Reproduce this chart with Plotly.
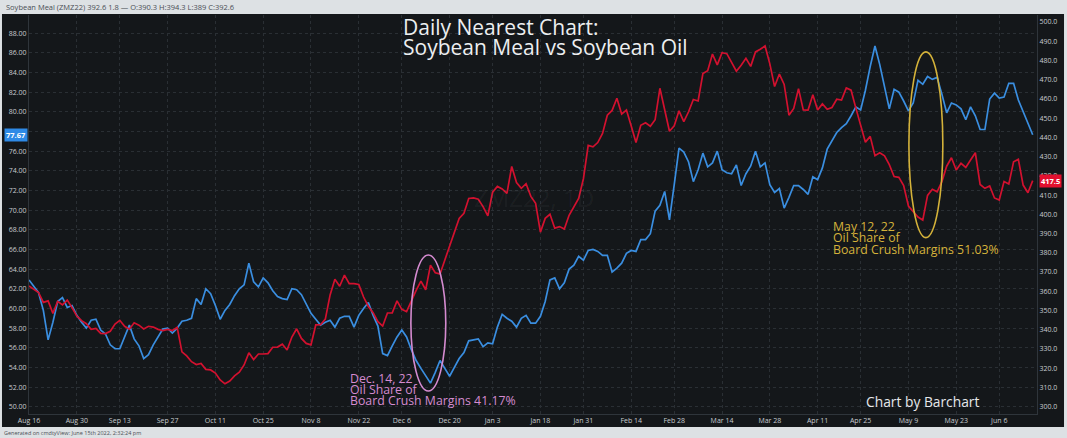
import pandas as pd
import plotly.graph_objects as go

# ---------------- data ----------------
holidays = ["2021-09-06", "2021-11-25", "2021-12-24", "2022-01-17",
            "2022-02-21", "2022-04-15", "2022-05-30"]
dates = [d.strftime("%Y-%m-%d") for d in pd.bdate_range("2021-08-16", "2022-06-15")
         if d.strftime("%Y-%m-%d") not in holidays]

# Soybean oil (left axis, cents/lb) - blue
oil_close = [
    62.9, 62.3, 61.6, 59.8, 56.8, 58.6, 60.7, 61.1, 60.1, 60.3,
    59.3, 58.6, 58.0, 58.8, 58.9, 57.8, 57.4, 56.3, 55.9, 55.9,
    57.1, 58.3, 56.9, 56.2, 54.9, 55.3, 56.3, 57.1, 57.9, 58.0,
    57.5, 58.0, 58.7, 58.8, 59.0, 61.0, 60.4, 62.0, 61.5, 60.3,
    58.9, 59.8, 60.4, 61.3, 62.0, 62.4, 64.6, 62.7, 62.2, 63.1,
    62.6, 61.8, 61.2, 61.0, 60.9, 62.0, 61.9, 61.4, 60.4, 59.5,
    58.9, 58.3, 58.6, 58.8, 58.1, 59.0, 59.2, 59.2, 58.1, 59.3,
    60.0, 60.6, 59.3, 58.2, 55.4, 55.2, 56.2, 57.1, 57.8, 57.1,
    55.8, 54.7, 53.9, 53.2, 52.4, 53.5, 54.7, 53.9, 53.1, 54.0,
    54.9, 55.5, 56.7, 56.8, 56.9, 56.1, 56.5, 56.4, 58.1, 59.4,
    59.0, 58.7, 58.1, 59.0, 59.3, 58.5, 58.5, 59.2, 60.7, 62.9,
    63.1, 62.0, 62.6, 64.0, 64.4, 65.3, 64.9, 65.9, 66.0, 65.8,
    65.4, 65.4, 63.7, 64.1, 64.6, 65.6, 65.9, 65.8, 67.0, 67.0,
    67.6, 69.9, 70.5, 71.9, 69.0, 72.6, 76.3, 75.9, 74.9, 72.9,
    74.1, 75.8, 74.4, 74.8, 76.0, 74.1, 73.8, 73.7, 74.6, 72.5,
    73.7, 74.5, 76.0, 74.4, 74.8, 72.6, 71.8, 72.2, 70.2, 71.3,
    72.5, 72.5, 72.1, 71.6, 73.4, 73.1, 74.3, 76.2, 77.0, 77.9,
    78.4, 78.8, 79.6, 80.5, 80.2, 82.2, 84.6, 86.7, 84.8, 82.6,
    80.3, 82.3, 82.0, 81.1, 80.1, 80.9, 83.2, 82.8, 83.6, 83.3,
    83.5, 81.8, 79.9, 80.9, 80.7, 80.3, 79.2, 80.5, 79.6, 78.2,
    78.2, 81.3, 81.9, 81.4, 81.5, 82.9, 82.9, 81.2, 80.0, 78.7,
    77.67,
]

# Soybean meal (right axis, $/short ton) - red
meal_close = [
    362.7, 361.0, 359.3, 354.2, 355.0, 348.5, 354.8, 352.9, 355.4, 351.5,
    347.1, 344.7, 343.1, 340.2, 340.7, 338.1, 338.0, 339.2, 343.0, 344.9,
    341.8, 340.3, 343.6, 342.4, 340.4, 341.8, 341.4, 340.2, 339.6, 340.2,
    339.6, 341.2, 328.5, 326.4, 323.4, 321.9, 322.5, 319.4, 319.1, 317.5,
    313.9, 311.9, 313.3, 316.0, 317.9, 321.7, 328.0, 324.5, 327.4, 327.4,
    327.6, 330.9, 331.0, 332.5, 329.5, 336.2, 340.5, 335.5, 332.9, 332.1,
    342.5, 342.6, 345.5, 358.1, 366.2, 362.6, 368.4, 364.0, 364.0, 363.5,
    357.0, 352.1, 348.9, 344.2, 341.9, 348.7, 348.8, 355.0, 350.6, 349.4,
    355.3, 360.5, 365.3, 360.8, 373.6, 369.6, 369.0, 376.5, 383.8, 391.0,
    397.9, 400.5, 408.2, 408.5, 407.8, 404.0, 399.2, 411.5, 414.5, 413.2,
    410.9, 424.9, 416.5, 413.5, 415.9, 409.3, 405.7, 390.7, 397.9, 400.0,
    392.8, 393.6, 392.3, 399.5, 404.0, 408.3, 418.5, 435.8, 435.1, 437.3,
    442.0, 451.5, 454.0, 460.3, 452.1, 454.2, 445.9, 437.3, 446.3, 447.6,
    445.8, 449.2, 465.5, 454.2, 443.2, 446.0, 453.8, 448.2, 453.3, 459.7,
    458.9, 473.2, 474.6, 483.3, 477.7, 484.0, 483.5, 479.0, 474.4, 477.5,
    481.1, 476.9, 484.4, 485.8, 487.5, 478.2, 466.4, 472.9, 467.5, 451.5,
    455.0, 465.3, 454.3, 454.2, 462.2, 454.2, 457.4, 454.6, 455.5, 459.8,
    459.4, 465.7, 464.5, 455.2, 445.8, 437.5, 440.5, 430.5, 432.0, 430.4,
    425.8, 419.6, 419.2, 415.0, 404.3, 401.2, 398.6, 397.0, 409.8, 413.0,
    411.7, 417.0, 425.0, 429.4, 423.0, 426.5, 424.4, 428.2, 432.0, 415.5,
    413.5, 414.7, 408.5, 407.4, 417.0, 415.7, 427.3, 428.6, 415.2, 411.2,
    417.5,
]

tick_dates = ["2021-08-16", "2021-08-30", "2021-09-13", "2021-09-27", "2021-10-11",
              "2021-10-25", "2021-11-08", "2021-11-22", "2021-12-06", "2021-12-20",
              "2022-01-03", "2022-01-18", "2022-01-31", "2022-02-14", "2022-02-28",
              "2022-03-14", "2022-03-28", "2022-04-11", "2022-04-25", "2022-05-09",
              "2022-05-23", "2022-06-06"]
tick_labels = ["Aug 16", "Aug 30", "Sep 13", "Sep 27", "Oct 11", "Oct 25", "Nov 8",
               "Nov 22", "Dec 6", "Dec 20", "Jan 3", "Jan 18", "Jan 31", "Feb 14",
               "Feb 28", "Mar 14", "Mar 28", "Apr 11", "Apr 25", "May 9", "May 23",
               "Jun 6"]
left_ticks = list(range(50, 90, 2))
right_ticks = list(range(300, 510, 10))

header_text = "Soybean Meal (ZMZ22) 392.6 1.8 \u2014 O:390.3 H:394.3 L:389 C:392.6"
footer_text = "Generated on cmdtyView: June 15th 2022, 2:32:24 pm"

# ---------------- figure ----------------
FONT = "Open Sans"
BG = "#14171a"
GRID = "#2a2f34"
BLUE = "#3a8ee0"
RED = "#d2112f"
PINK = "#d58bd0"
GOLD = "#d4b23a"

fig = go.Figure()
fig.add_trace(go.Scatter(x=dates, y=meal_close, mode="lines", yaxis="y2",
                         line=dict(color=RED, width=1.7), name="Soybean Meal"))
fig.add_trace(go.Scatter(x=dates, y=oil_close, mode="lines", yaxis="y",
                         line=dict(color=BLUE, width=1.7), name="Soybean Oil"))

fig.update_layout(
    width=1067, height=438,
    margin=dict(l=29, r=30, t=15, b=24, autoexpand=False),
    paper_bgcolor=BG, plot_bgcolor=BG,
    showlegend=False,
    font=dict(family=FONT, color="#c8ccd0", size=7),
    xaxis=dict(type="category", range=[0, 210.9], tickvals=tick_dates,
               ticktext=tick_labels, showgrid=True, gridcolor=GRID, griddash="dot",
               gridwidth=1, showline=True, linecolor="#2f353b", ticks="",
               automargin=False, tickfont=dict(size=7, color="#c8ccd0"), zeroline=False),
    yaxis=dict(range=[49.26, 89.85], tickvals=left_ticks, tickformat=".2f",
               showgrid=True, gridcolor=GRID, griddash="dot", gridwidth=1,
               showline=True, linecolor="#2f353b", ticks="", zeroline=False,
               automargin=False, tickfont=dict(size=7, color="#c8ccd0")),
    yaxis2=dict(range=[296.2, 503.6], tickvals=right_ticks, tickformat=".1f",
                overlaying="y", side="right", showgrid=False, showline=True,
                linecolor="#2f353b", ticks="", zeroline=False, automargin=False,
                tickfont=dict(size=7, color="#c8ccd0")),
)

shapes = [
    # header / footer bars and edge strips
    dict(type="rect", xref="paper", yref="paper", x0=-0.04, x1=1.04, y0=1.0025, y1=1.05,
         fillcolor="#dde1e4", line=dict(width=0), layer="above"),
    dict(type="rect", xref="paper", yref="paper", x0=-0.04, x1=1.04, y0=-0.08, y1=-0.0326,
         fillcolor="#dde1e4", line=dict(width=0), layer="above"),
    dict(type="rect", xref="paper", yref="paper", x0=1.0268, x1=1.04, y0=-0.08, y1=1.05,
         fillcolor="#dde1e4", line=dict(width=0), layer="above"),
    dict(type="rect", xref="paper", yref="paper", x0=-0.04, x1=-0.0268, y0=-0.08, y1=1.05,
         fillcolor="#dde1e4", line=dict(width=0), layer="above"),
    # highlight ellipses
    dict(type="circle", xref="x", yref="y", x0=79.9, x1=87.2, y0=51.6, y1=65.43,
         line=dict(color=PINK, width=1.6)),
    dict(type="circle", xref="x", yref="y", x0=184.1, x1=191.2, y0=67.2, y1=86.1,
         line=dict(color=GOLD, width=1.6)),
]
fig.update_layout(shapes=shapes)

ann = []
def add_text(x, y, text, size, color, xref="x", yref="y", xanchor="left"):
    ann.append(dict(x=x, y=y, xref=xref, yref=yref, text=text, showarrow=False,
                    xanchor=xanchor, yanchor="middle", borderpad=0,
                    font=dict(family=FONT, size=size, color=color)))

# watermark
add_text(105.6, 71.3, "ZMZ22, 1D", 24, "rgba(255,255,255,0.05)", xanchor="center")
# title
add_text(78.0, 88.6, "Daily Nearest Chart:", 21, "#eceef0")
add_text(78.0, 86.6, "Soybean Meal vs Soybean Oil", 21, "#eceef0")
# pink note
add_text(67.0, 52.89, "Dec. 14, 22", 12.3, PINK)
add_text(67.0, 51.77, "Oil Share of", 12.3, PINK)
add_text(67.0, 50.68, "Board Crush Margins 41.17%", 12.3, PINK)
# gold note
add_text(168.1, 68.31, "May 12, 22", 12.3, GOLD)
add_text(168.1, 67.18, "Oil Share of", 12.3, GOLD)
add_text(168.1, 66.04, "Board Crush Margins 51.03%", 12.3, GOLD)
# credit
add_text(175.0, 50.51, "Chart by Barchart", 13.8, "#e6e8ea")
# header / footer
add_text(-0.024, 1.0205, header_text, 7.5, "#4a4f55", xref="paper", yref="paper")
add_text(-0.026, -0.047, footer_text, 5.5, "#4a4f55", xref="paper", yref="paper")

# last value tags
ann.append(dict(x=0, y=oil_close[-1], xref="paper", yref="y", text="<b>77.67</b>",
                showarrow=False, xanchor="right", yanchor="middle", xshift=-1,
                bgcolor="#2e8ae6", borderpad=1,
                font=dict(family=FONT, size=7.5, color="#ffffff")))
ann.append(dict(x=1, y=meal_close[-1], xref="paper", yref="y2", text="<b>417.5</b>",
                showarrow=False, xanchor="left", yanchor="middle", xshift=2,
                bgcolor="#e3102f", borderpad=1,
                font=dict(family=FONT, size=7.5, color="#ffffff")))
fig.update_layout(annotations=ann)

fig.write_html("out.html", config={"displayModeBar": False, "staticPlot": True})

# remove the default page margin so the figure sits at the window's top-left corner
with open("out.html", "r", encoding="utf-8") as f:
    html = f.read()
html = html.replace("<body>", '<body style="margin:0;padding:0;overflow:hidden">', 1)
with open("out.html", "w", encoding="utf-8") as f:
    f.write(html)
